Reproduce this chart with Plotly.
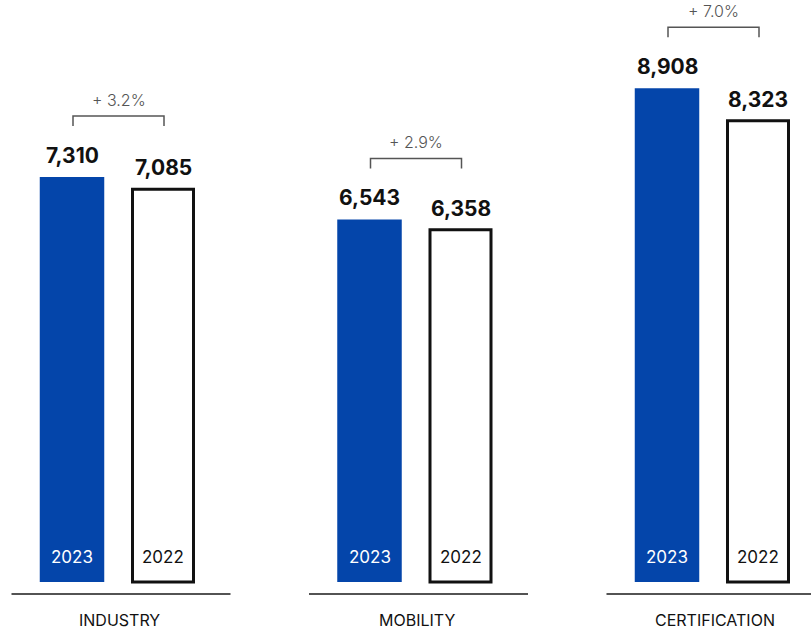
import plotly.graph_objects as go

# ---- data ----
categories = ["INDUSTRY", "MOBILITY", "CERTIFICATION"]
revenue_2023 = [7310, 6543, 8908]
revenue_2022 = [7085, 6358, 8323]
year_labels = ["2023", "2022"]

# ---- style ----
BLUE = "#0445AA"
FONT = "Inter"
PX = 0.05542            # pixels per data unit (vertical)
GROUP_PX = 297.5        # pixels per category (horizontal)
HALF = 45.5             # px from group centre to bar centre
BRACKET_PAD = 1100      # data units above the taller bar

def u(px):
    return px / GROUP_PX

fig = go.Figure()
fig.add_trace(go.Bar(
    x=categories, y=revenue_2023, name=year_labels[0],
    width=u(64.5), offset=u(-HALF - 32.25),
    marker=dict(color=BLUE, line=dict(width=0)), hoverinfo="skip"))
fig.add_trace(go.Bar(
    x=categories, y=revenue_2022, name=year_labels[1],
    width=u(61), offset=u(HALF - 30.5),
    marker=dict(color="white", line=dict(color="#111111", width=3)), hoverinfo="skip"))

annotations = []
shapes = []
for i, cat in enumerate(categories):
    a, b = revenue_2023[i], revenue_2022[i]
    # value labels
    for val, sh in ((a, -HALF), (b, HALF)):
        annotations.append(dict(x=i, y=val, xref="x", yref="y", text=f"{val:,}",
                                showarrow=False, xshift=sh, yanchor="bottom", yshift=7,
                                font=dict(family=FONT, size=21, color="#111111", weight="bold")))
    # year labels inside bars
    annotations.append(dict(x=i, y=0, xref="x", yref="y", text=year_labels[0], showarrow=False,
                            xshift=-HALF, yanchor="middle", yshift=25,
                            font=dict(family=FONT, size=17, color="white")))
    annotations.append(dict(x=i, y=0, xref="x", yref="y", text=year_labels[1], showarrow=False,
                            xshift=HALF, yanchor="middle", yshift=25,
                            font=dict(family=FONT, size=17, color="#111111")))
    # category labels
    annotations.append(dict(x=i, y=0.019, xref="x", yref="paper", text=cat, showarrow=False,
                            xshift=2, yanchor="middle",
                            font=dict(family=FONT, size=16, color="#111111")))
    # separator line
    shapes.append(dict(type="line", xref="x", yref="paper",
                       x0=i + u(-106), x1=i + u(113), y0=0.0601, y1=0.0601,
                       line=dict(color="#1a1a1a", width=1.3)))
    # growth bracket
    yb = max(a, b) + BRACKET_PAD
    yt = yb - 10 / PX
    x0, x1 = i + u(-HALF + 1), i + u(HALF + 1)
    path = f"M {x0} {yt} L {x0} {yb} L {x1} {yb} L {x1} {yt}"
    shapes.append(dict(type="path", xref="x", yref="y", path=path,
                       line=dict(color="#555555", width=1.5)))
    pct = (a / b - 1) * 100
    annotations.append(dict(x=i, y=yb, xref="x", yref="y", text=f"+ {pct:.1f}%",
                            showarrow=False, xshift=1, yanchor="bottom", yshift=4,
                            font=dict(family=FONT, size=16, color="#555555", weight=300)))

fig.update_layout(
    width=811, height=632,
    margin=dict(l=0, r=0, t=0, b=0),
    paper_bgcolor="white", plot_bgcolor="white",
    barmode="overlay", showlegend=False,
    xaxis=dict(type="category", range=[u(-117.5), u(811 - 117.5)], visible=False, fixedrange=True),
    yaxis=dict(range=[-50 / PX, 582 / PX], visible=False, fixedrange=True),
    annotations=annotations, shapes=shapes,
)

fig.write_html("out.html")
